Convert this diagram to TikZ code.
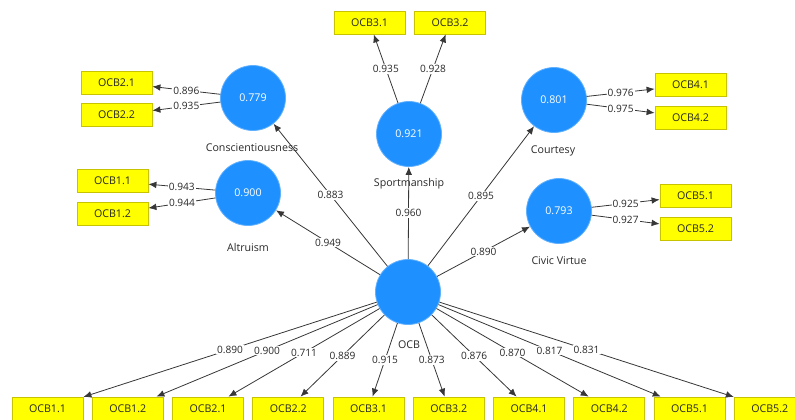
\documentclass[tikz,border=0pt]{standalone}
\usepackage{fontspec}
\setmainfont{Open Sans}
\usetikzlibrary{arrows.meta}
\definecolor{lvc}{RGB}{30,144,255}
\definecolor{indc}{RGB}{255,255,0}
\definecolor{indb}{RGB}{200,195,0}
\definecolor{lnc}{RGB}{55,55,55}
\definecolor{txc}{RGB}{40,40,40}
\begin{document}
\begin{tikzpicture}[x=0.75pt,y=-0.75pt,
  lvnode/.style={circle,fill=lvc,draw=lvc!70!white,line width=0.6pt,minimum size=48.75pt,inner sep=0pt,text=white,font=\fontsize{8}{9.6}\selectfont},
  indnode/.style={rectangle,fill=indc,draw=indb,line width=0.6pt,minimum width=53.25pt,minimum height=17.25pt,inner sep=0pt,text=txc,font=\fontsize{8}{9.6}\selectfont},
  conn/.style={draw=lnc,line width=0.6pt,-{Latex[length=6pt,width=5pt]}},
  lbl/.style={fill=white,inner sep=0.8pt,text=txc,font=\fontsize{7.6}{9}\selectfont,pos=0.5},
  lvname/.style={text=txc,font=\fontsize{8}{9.6}\selectfont,inner sep=0pt}
]
\useasboundingbox (0,0) rectangle (795,419);
\clip (0,0) rectangle (795,419);

% latent variables
\node[lvnode] (con) at (253,98) {0.779};
\node[lvnode] (alt) at (248,193) {0.900};
\node[lvnode] (spo) at (409,134) {0.921};
\node[lvnode] (cou) at (554,100) {0.801};
\node[lvnode] (civ) at (559,211) {0.793};
\node[lvnode] (ocb) at (408,292) {};

\node[lvname] (conname) at (252,148) {Conscientiousness};
\node[lvname] (altname) at (248,247) {Altruism};
\node[lvname] (sponame) at (409,184) {Sportmanship};
\node[lvname] (couname) at (553,151) {Courtesy};
\node[lvname] (civname) at (559,261) {Civic Virtue};
\node[lvname] (ocbname) at (409,345) {OCB};

% indicators of first-order constructs
\node[indnode] (t21) at (116.5,82.5) {OCB2.1};
\node[indnode] (t22) at (116.5,115) {OCB2.2};
\node[indnode] (t11) at (112.5,181) {OCB1.1};
\node[indnode] (t12) at (112.5,213.5) {OCB1.2};
\node[indnode] (t31) at (369.5,22.5) {OCB3.1};
\node[indnode] (t32) at (450,22.5) {OCB3.2};
\node[indnode] (t41) at (690.5,85) {OCB4.1};
\node[indnode] (t42) at (690.5,117.5) {OCB4.2};
\node[indnode] (t51) at (695.5,195.5) {OCB5.1};
\node[indnode] (t52) at (695.5,228.5) {OCB5.2};

% indicators of OCB
\node[indnode] (b11) at (47.5,408.5) {OCB1.1};
\node[indnode] (b12) at (127.75,408.5) {OCB1.2};
\node[indnode] (b21) at (208,408.5) {OCB2.1};
\node[indnode] (b22) at (288.25,408.5) {OCB2.2};
\node[indnode] (b31) at (368.5,408.5) {OCB3.1};
\node[indnode] (b32) at (448.75,408.5) {OCB3.2};
\node[indnode] (b41) at (529,408.5) {OCB4.1};
\node[indnode] (b42) at (609.25,408.5) {OCB4.2};
\node[indnode] (b51) at (689.5,408.5) {OCB5.1};
\node[indnode] (b52) at (769.75,408.5) {OCB5.2};

% outer loadings
\draw[conn] (con) -- node[lbl]{0.896} (t21);
\draw[conn] (con) -- node[lbl]{0.935} (t22);
\draw[conn] (alt) -- node[lbl]{0.943} (t11);
\draw[conn] (alt) -- node[lbl]{0.944} (t12);
\draw[conn] (spo) -- node[lbl]{0.935} (t31);
\draw[conn] (spo) -- node[lbl]{0.928} (t32);
\draw[conn] (cou) -- node[lbl]{0.976} (t41);
\draw[conn] (cou) -- node[lbl]{0.975} (t42);
\draw[conn] (civ) -- node[lbl]{0.925} (t51);
\draw[conn] (civ) -- node[lbl]{0.927} (t52);

% second-order paths
\draw[conn] (ocb) -- node[lbl]{0.883} (con);
\draw[conn] (ocb) -- node[lbl]{0.949} (alt);
\draw[conn] (ocb) -- node[lbl]{0.960} (spo);
\draw[conn] (ocb) -- node[lbl]{0.895} (cou);
\draw[conn] (ocb) -- node[lbl]{0.890} (civ);

% OCB loadings
\draw[conn] (ocb) -- node[lbl]{0.890} (b11);
\draw[conn] (ocb) -- node[lbl]{0.900} (b12);
\draw[conn] (ocb) -- node[lbl]{0.711} (b21);
\draw[conn] (ocb) -- node[lbl]{0.889} (b22);
\draw[conn] (ocb) -- node[lbl]{0.915} (b31);
\draw[conn] (ocb) -- node[lbl]{0.873} (b32);
\draw[conn] (ocb) -- node[lbl]{0.876} (b41);
\draw[conn] (ocb) -- node[lbl]{0.870} (b42);
\draw[conn] (ocb) -- node[lbl]{0.817} (b51);
\draw[conn] (ocb) -- node[lbl]{0.831} (b52);
\end{tikzpicture}
\end{document}
